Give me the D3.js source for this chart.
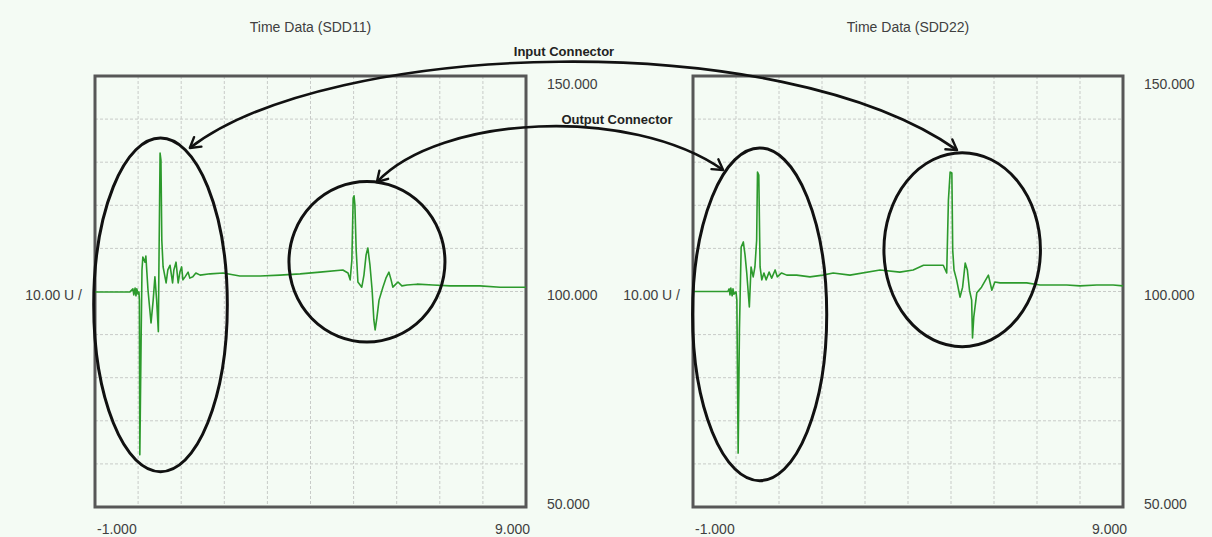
<!DOCTYPE html>
<html><head><meta charset="utf-8">
<script src="https://cdn.jsdelivr.net/npm/d3@7"></script>
<style>html,body{margin:0;padding:0;background:#f4fbf4;} svg{display:block;}</style>
</head><body><svg id="chart" width="1212" height="537"></svg>
<script>
// ---------- data ----------
const titles = ["Time Data (SDD11)", "Time Data (SDD22)"];
const yTickValues = [150, 100, 50];
const yTickLabels = ["150.000", "100.000", "50.000"];
const xTickValues = [-1, 9];
const xTickLabels = ["-1.000", "9.000"];
const scaleLabel = "10.00 U /";

const sdd11Time = [-1.00,-0.19,-0.12,-0.10,-0.07,-0.05,-0.03,0.00,0.02,0.03,0.04,0.07,0.09,0.11,0.16,0.18,0.23,0.30,0.35,0.39,0.43,0.47,0.48,0.51,0.53,0.55,0.58,0.65,0.69,0.74,0.80,0.83,0.88,0.93,0.97,1.01,1.04,1.09,1.16,1.20,1.27,1.34,1.44,1.67,1.97,2.36,2.83,3.29,3.76,4.22,4.75,4.87,4.92,4.96,4.99,5.01,5.03,5.06,5.10,5.19,5.24,5.29,5.33,5.38,5.43,5.47,5.50,5.54,5.59,5.68,5.75,5.82,5.87,5.91,5.98,6.03,6.12,6.24,6.47,6.84,7.24,7.93,8.40,9.00];
const sdd11Value = [99.9,99.9,100.6,99.2,100.8,99.0,100.6,99.4,99.9,98.0,62.1,88.7,105.0,108.0,106.8,108.2,100.3,92.7,98.0,103.4,98.0,90.7,102.7,132.1,130.5,111.9,105.7,102.0,105.0,106.1,102.0,105.0,106.8,102.0,104.5,105.7,102.7,103.4,104.5,103.1,103.4,104.3,103.8,104.1,104.3,103.6,103.6,103.8,104.1,104.5,105.0,104.3,102.7,107.3,121.7,122.2,120.1,109.6,102.2,101.0,103.8,108.5,110.1,106.1,100.3,93.4,91.1,93.9,98.0,101.0,103.1,104.5,102.7,101.0,101.7,102.2,101.3,101.5,101.7,101.5,101.3,101.3,101.0,101.0];

const sdd22Time = [-1.00,-0.19,-0.16,-0.14,-0.12,-0.09,-0.07,-0.05,0.00,0.02,0.05,0.08,0.12,0.17,0.21,0.25,0.31,0.35,0.40,0.44,0.48,0.50,0.53,0.56,0.60,0.65,0.70,0.77,0.83,0.91,0.96,1.06,1.18,1.41,1.72,2.02,2.26,2.65,3.35,3.81,4.12,4.36,4.82,4.90,4.94,4.98,5.02,5.04,5.07,5.13,5.21,5.27,5.33,5.38,5.43,5.48,5.50,5.53,5.60,5.71,5.87,5.95,6.02,6.14,6.45,6.76,7.07,7.69,8.00,8.39,8.77,9.00];
const sdd22Value = [100.0,100.0,100.6,99.2,100.8,99.0,100.6,99.4,99.9,98.0,62.5,91.1,110.3,111.5,108.5,104.3,96.4,105.7,103.4,105.7,111.9,127.7,127.0,105.7,102.7,104.3,102.7,104.5,103.1,105.0,103.4,104.3,103.8,103.8,103.4,103.8,104.3,103.8,105.0,104.5,105.0,106.1,106.1,104.3,121.2,127.7,127.5,109.6,105.0,102.7,98.7,101.0,106.6,105.0,100.3,98.0,89.2,94.1,99.7,101.0,103.8,100.3,102.2,102.0,102.0,102.0,101.5,101.5,101.3,101.5,101.5,101.3];

// annotation ellipses in data units: [centerTime, centerValue, radiusTime, radiusValue]
const sdd11Rings = [[0.52, 96.9, 1.55, 38.7], [5.31, 106.9, 1.81, 18.6]];
const sdd22Rings = [[0.55, 94.7, 1.56, 38.6], [5.26, 109.7, 1.82, 22.5]];
// connectors: label, [panel, time, value] start, [panel, time, value] end
const connectorLabels = ["Input Connector", "Output Connector"];
const connectorStart = [[0, 1.20, 133.3], [0, 5.54, 125.4]];
const connectorEnd   = [[1, 5.14, 132.8], [1, -0.30, 128.2]];

// ---------- layout ----------
const svg = d3.select("#chart");
const W = 1212, H = 537;
const bg = "#f4fbf4";
svg.append("rect").attr("width", W).attr("height", H).attr("fill", bg);

const panels = [
  {left: 95, width: 431, title: titles[0], t: sdd11Time, v: sdd11Value, rings: sdd11Rings},
  {left: 693, width: 430, title: titles[1], t: sdd22Time, v: sdd22Value, rings: sdd22Rings}
];
const plotTop = 76, plotBottom = 507;
const font = "'Liberation Sans', Arial, sans-serif";
const textColor = "#404040";

panels.forEach(p => {
  p.x = d3.scaleLinear().domain([-1, 9]).range([p.left, p.left + p.width]);
  p.y = d3.scaleLinear().domain([50, 150]).range([plotBottom, plotTop]);
});

const defs = svg.append("defs");
defs.append("marker").attr("id", "arr")
  .attr("markerUnits", "userSpaceOnUse")
  .attr("viewBox", "-12 -8 14 16").attr("refX", 0).attr("refY", 0)
  .attr("markerWidth", 14).attr("markerHeight", 16)
  .attr("orient", "auto-start-reverse")
  .append("path").attr("d", "M-10,-6 L0,0 L-10,6")
  .attr("fill", "none").attr("stroke", "#111").attr("stroke-width", 2.4)
  .attr("stroke-linecap", "round").attr("stroke-linejoin", "round");

panels.forEach(p => {
  const g = svg.append("g");
  const xt = d3.range(0, 9);
  const yt = d3.range(60, 150, 10);
  g.selectAll(".vg").data(xt).join("line")
    .attr("x1", d => p.x(d)).attr("x2", d => p.x(d))
    .attr("y1", plotTop).attr("y2", plotBottom)
    .attr("stroke", "#c8cbc8").attr("stroke-width", 1).attr("stroke-dasharray", "3,2");
  g.selectAll(".hg").data(yt).join("line")
    .attr("y1", d => p.y(d)).attr("y2", d => p.y(d))
    .attr("x1", p.left).attr("x2", p.left + p.width)
    .attr("stroke", "#c8cbc8").attr("stroke-width", 1).attr("stroke-dasharray", "3,2");
  g.append("rect").attr("x", p.left).attr("y", plotTop)
    .attr("width", p.width).attr("height", plotBottom - plotTop)
    .attr("fill", "none").attr("stroke", "#575757").attr("stroke-width", 3);
  const line = d3.line().x((d, i) => p.x(p.t[i])).y((d, i) => p.y(p.v[i]));
  g.append("path").datum(p.v).attr("d", line)
    .attr("fill", "none").attr("stroke", "#2c9a2c").attr("stroke-width", 1.6)
    .attr("stroke-linejoin", "round");
  g.append("text").attr("x", p.left + p.width / 2).attr("y", 32)
    .attr("text-anchor", "middle").attr("font-family", font).attr("font-size", 14)
    .attr("fill", textColor).text(p.title);
  const yOff = [13, 8, 2];
  yTickValues.forEach((v, i) => {
    g.append("text").attr("x", p.left + p.width + 21).attr("y", p.y(v) + yOff[i])
      .attr("font-family", font).attr("font-size", 14).attr("fill", textColor)
      .text(yTickLabels[i]);
  });
  g.append("text").attr("x", p.x(xTickValues[0]) + 2).attr("y", 534)
    .attr("font-family", font).attr("font-size", 14).attr("fill", textColor).text(xTickLabels[0]);
  g.append("text").attr("x", p.x(xTickValues[1]) + 4).attr("y", 534).attr("text-anchor", "end")
    .attr("font-family", font).attr("font-size", 14).attr("fill", textColor).text(xTickLabels[1]);
  g.append("text").attr("x", p.left - 13).attr("y", p.y(100) + 8).attr("text-anchor", "end")
    .attr("font-family", font).attr("font-size", 14).attr("fill", textColor).text(scaleLabel);
  g.selectAll(".ring").data(p.rings).join("ellipse")
    .attr("cx", d => p.x(d[0])).attr("cy", d => p.y(d[1]))
    .attr("rx", d => p.x(d[0] + d[2]) - p.x(d[0]))
    .attr("ry", d => p.y(d[1] - d[3]) - p.y(d[1]))
    .attr("fill", "none").attr("stroke", "#111").attr("stroke-width", 3);
});

const lift = [[[140, -108], [-177, -125]], [[63, -67], [-93, -65]]];
connectorLabels.forEach((lab, i) => {
  const s = connectorStart[i], e = connectorEnd[i];
  const p0 = [panels[s[0]].x(s[1]), panels[s[0]].y(s[2])];
  const p3 = [panels[e[0]].x(e[1]), panels[e[0]].y(e[2])];
  const c1 = [p0[0] + lift[i][0][0], p0[1] + lift[i][0][1]];
  const c2 = [p3[0] + lift[i][1][0], p3[1] + lift[i][1][1]];
  const path = d3.path();
  path.moveTo(p0[0], p0[1]);
  path.bezierCurveTo(c1[0], c1[1], c2[0], c2[1], p3[0], p3[1]);
  svg.append("path").attr("d", path.toString())
    .attr("fill", "none").attr("stroke", "#111").attr("stroke-width", 2.6)
    .attr("marker-start", "url(#arr)").attr("marker-end", "url(#arr)");
});
svg.append("text").attr("x", 564).attr("y", 56).attr("text-anchor", "middle")
  .attr("font-family", font).attr("font-size", 13).attr("font-weight", "bold")
  .attr("fill", "#222").text(connectorLabels[0]);
svg.append("text").attr("x", 617).attr("y", 124).attr("text-anchor", "middle")
  .attr("font-family", font).attr("font-size", 13).attr("font-weight", "bold")
  .attr("fill", "#222").text(connectorLabels[1]);
</script></body></html>
